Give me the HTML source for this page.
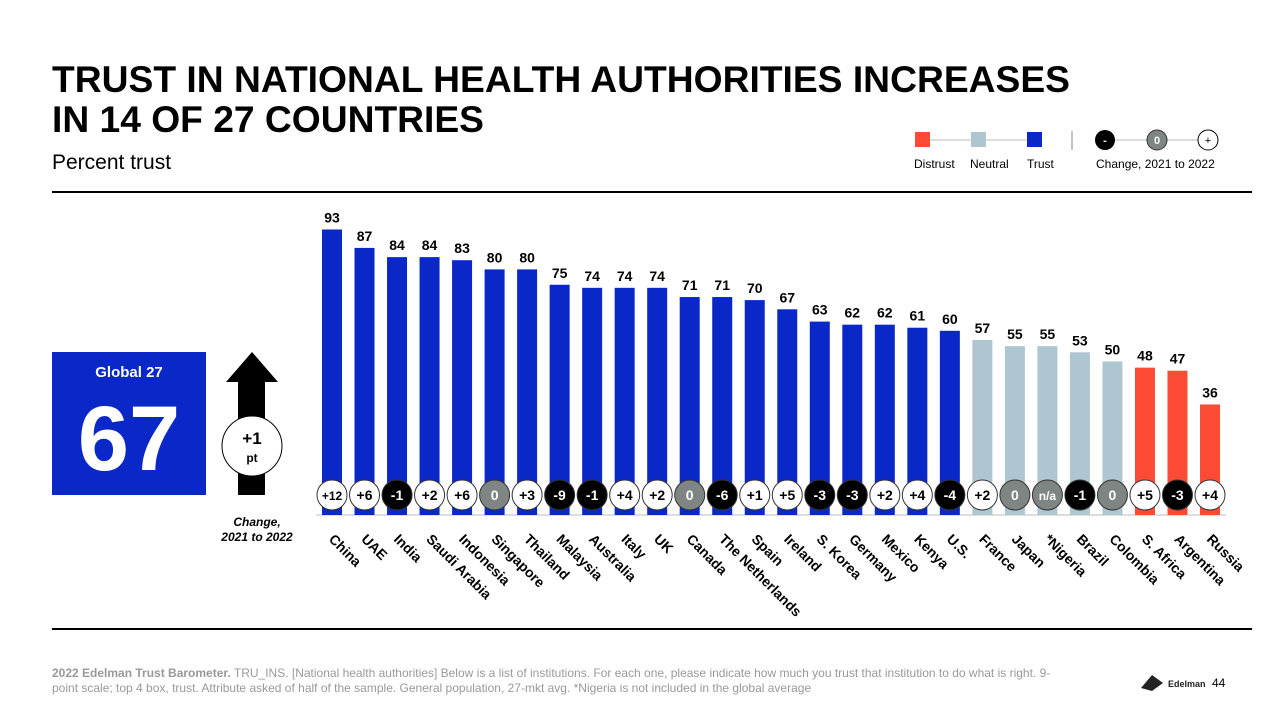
<!DOCTYPE html>
<html><head><meta charset="utf-8"><style>
body{margin:0;width:1280px;height:720px;overflow:hidden;background:#fff;font-family:"Liberation Sans",Arial,sans-serif;}
svg{position:absolute;left:0;top:0}
</style></head><body>
<svg id="s" width="1280" height="720" xmlns="http://www.w3.org/2000/svg" font-family="Liberation Sans, Arial, sans-serif">
<text x="52" y="92" font-size="37" font-weight="bold" fill="#000" textLength="1018" lengthAdjust="spacingAndGlyphs">TRUST IN NATIONAL HEALTH AUTHORITIES INCREASES</text>
<text x="52" y="132" font-size="37" font-weight="bold" fill="#000" textLength="432" lengthAdjust="spacingAndGlyphs">IN 14 OF 27 COUNTRIES</text>
<text x="52" y="169" font-size="21" fill="#000">Percent trust</text>
<g>
<line x1="922" y1="140" x2="1034" y2="140" stroke="#bbb" stroke-width="1"/>
<rect x="915" y="132" width="15" height="15" fill="#fc4a35"/>
<rect x="971" y="132" width="15" height="15" fill="#aec6d0"/>
<rect x="1027" y="132" width="15" height="15" fill="#0a28c8"/>
<text x="914" y="168" font-size="12">Distrust</text>
<text x="970" y="168" font-size="12">Neutral</text>
<text x="1027" y="168" font-size="12">Trust</text>
<line x1="1072" y1="131" x2="1072" y2="150" stroke="#888"/>
<line x1="1105" y1="140" x2="1208" y2="140" stroke="#bbb"/>
<circle cx="1105" cy="140" r="10" fill="#000"/><text x="1105" y="144" font-size="11" fill="#fff" text-anchor="middle" font-weight="bold">-</text>
<circle cx="1157" cy="140" r="10" fill="#7f8583" stroke="#333"/><text x="1157" y="144" font-size="11" fill="#fff" text-anchor="middle" font-weight="bold">0</text>
<circle cx="1208" cy="140" r="10" fill="#fff" stroke="#000"/><text x="1208" y="144" font-size="11" text-anchor="middle">+</text>
<text x="1096" y="168" font-size="12">Change, 2021 to 2022</text>
</g>
<line x1="52" y1="192" x2="1252" y2="192" stroke="#000" stroke-width="2"/>
<line x1="52" y1="629" x2="1252" y2="629" stroke="#000" stroke-width="2"/>
<g>
<rect x="52" y="352" width="154" height="143" fill="#0a28c8"/>
<text x="129" y="377" font-size="15" font-weight="bold" fill="#fff" text-anchor="middle">Global 27</text>
<text x="129" y="470" font-size="92" font-weight="bold" fill="#fff" text-anchor="middle">67</text>
</g>
<g>
<polygon points="252,352 278,382 265,382 265,495 238,495 238,382 226,382" fill="#000"/>
<circle cx="252" cy="446" r="30" fill="#fff" stroke="#000"/>
<text x="252" y="444" font-size="17" font-weight="bold" text-anchor="middle">+1</text>
<text x="252" y="462" font-size="12" font-weight="bold" text-anchor="middle">pt</text>
</g>
<text x="257" y="526" font-size="12" font-weight="bold" font-style="italic" text-anchor="middle">Change,</text>
<text x="257" y="541" font-size="12" font-weight="bold" font-style="italic" text-anchor="middle">2021 to 2022</text>
<g id="bars"></g>
<text x="52" y="677" font-size="12" fill="#999"><tspan font-weight="bold">2022 Edelman Trust Barometer.</tspan> TRU_INS. [National health authorities] Below is a list of institutions. For each one, please indicate how much you trust that institution to do what is right. 9-</text>
<text x="52" y="692" font-size="12" fill="#999">point scale; top 4 box, trust. Attribute asked of half of the sample. General population, 27-mkt avg. *Nigeria is not included in the global average</text>
<g>
<polygon points="1152,675 1163,683 1152,691 1141,688" fill="#222"/>
<text x="1168" y="687" font-size="9" font-weight="bold" fill="#222">Edelman</text>
</g>
<text x="1212" y="687" font-size="12" fill="#000">44</text>
</svg>
<script>
const countries=["China","UAE","India","Saudi Arabia","Indonesia","Singapore","Thailand","Malaysia","Australia","Italy","UK","Canada","The Netherlands","Spain","Ireland","S. Korea","Germany","Mexico","Kenya","U.S.","France","Japan","*Nigeria","Brazil","Colombia","S. Africa","Argentina","Russia"];
const values=[93,87,84,84,83,80,80,75,74,74,74,71,71,70,67,63,62,62,61,60,57,55,55,53,50,48,47,36];
const changes=["+12","+6","-1","+2","+6","0","+3","-9","-1","+4","+2","0","-6","+1","+5","-3","-3","+2","+4","-4","+2","0","n/a","-1","0","+5","-3","+4"];
const g=document.getElementById('bars');
const NS="http://www.w3.org/2000/svg";
const n=countries.length;
const x0=332,x1=1210,base=515,k=3.07;
function xs(i){return x0+i*(x1-x0)/(n-1);}
function ys(v){return base-v*k;}
function mk(t,a){const e=document.createElementNS(NS,t);for(const q in a)e.setAttribute(q,a[q]);g.appendChild(e);return e;}
const ax=mk('line',{x1:xs(0)-16,x2:xs(n-1)+16,y1:base,y2:base,stroke:'#bbb'});


for(let i=0;i<n;i++){
 const v=values[i],cx=xs(i);
 const col=v>=60?'#0a28c8':(v>=50?'#aec6d0':'#fc4a35');
 const r=mk('rect',{x:cx-10,y:ys(v),width:20,height:base-ys(v),fill:col});
 
 
 const t=mk('text',{x:cx,y:ys(v)-7,'font-size':14,'font-weight':'bold','text-anchor':'middle'});
 t.textContent=v;
 
 
 const c=changes[i];
 const neg=c[0]==='-', zero=(c==='0'||c==='n/a');
 const ci=mk('circle',{cx:cx,cy:495,r:15,fill:neg?'#000':(zero?'#7f8583':'#fff'),stroke:'#333'});
 
 
 const ct=mk('text',{x:cx,y:500,'font-size':c.length>2?12:14,'font-weight':'bold','text-anchor':'middle',fill:(neg||zero)?'#fff':'#000'});
 ct.textContent=c;
 
 
 const lb=mk('text',{x:cx-4,y:540,'font-size':14,'font-weight':'bold',transform:'rotate(45 '+(cx-4)+' 540)'});
 lb.textContent=countries[i];
 
 
}
</script>
</body></html>
